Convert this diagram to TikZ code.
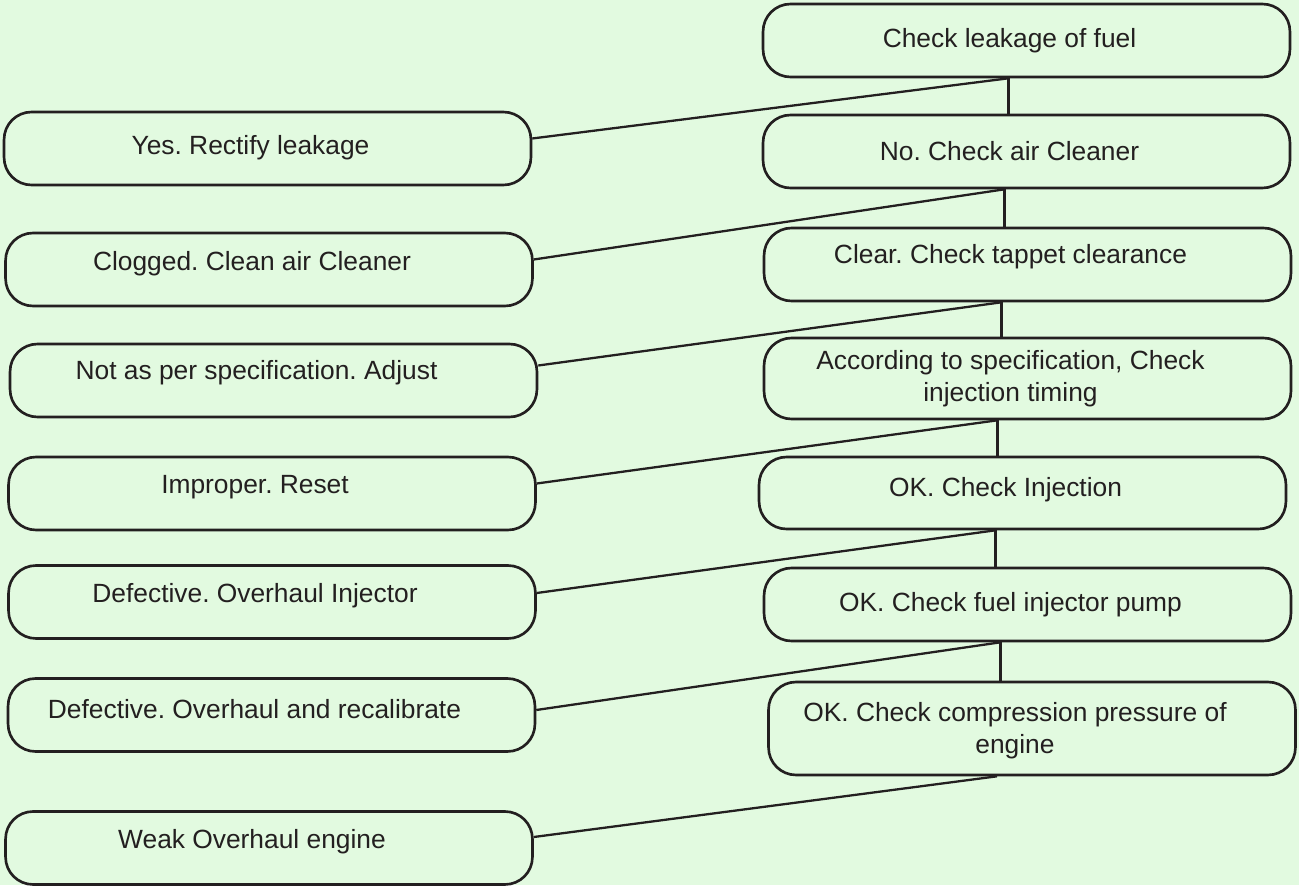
\documentclass[tikz,border=0pt]{standalone}
\usepackage{xcolor}
\usepackage{fontspec}
\setmainfont{Liberation Sans}
\frenchspacing
\usepackage{tikz}

\definecolor{bgmint}{HTML}{E2FAE0}
\definecolor{inkgray}{HTML}{231F20}

\tikzset{
  stepbox/.style={draw=inkgray, line width=1.5pt, rounded corners=0.55cm, fill=bgmint,
    minimum width=10.54cm, minimum height=#1, inner sep=0pt},
  stepbox/.default=1.46cm,
  steptext/.style={text=inkgray, align=center, font=\fontsize{15}{18}\selectfont},
  lefttext/.style={steptext, xshift=-0.34cm, yshift=0.12cm},
  righttext/.style={steptext, xshift=-0.34cm},
  link/.style={draw=inkgray, line width=1.3pt},
}

\begin{document}
\begin{tikzpicture}[x=0.02cm, y=-0.02cm]
        \fill[bgmint] (0,0) rectangle (1299,885);

        % checks, top to bottom
        \node[stepbox, label={[righttext]center:Check leakage of fuel}] (leak) at (1026.5,40.5) {};
        \node[stepbox, label={[righttext]center:No. Check air Cleaner}] (air) at (1026.5,151.5) {};
        \node[stepbox, label={[righttext, yshift=0.16cm]center:Clear. Check tappet clearance}] (tappet) at (1027.5,264.5) {};
        \node[stepbox=1.62cm, label={[righttext]center:According to specification, Check\\injection timing}] (timing) at (1027.5,378.5) {};
        \node[stepbox=1.44cm, label={[righttext, yshift=0.06cm]center:OK. Check Injection}] (inject) at (1022.5,493) {};
        \node[stepbox, label={[righttext]center:OK. Check fuel injector pump}] (pump) at (1027.5,604.5) {};
        \node[stepbox=1.86cm, label={[righttext, yshift=-0.04cm]center:OK. Check compression pressure of\\engine}] (compress) at (1032,728.5) {};

        % remedies
        \node[stepbox, label={[lefttext, yshift=-0.1cm]center:Yes. Rectify leakage}] (rectify) at (267.5,148.5) {};
        \node[stepbox, label={[lefttext]center:Clogged. Clean air Cleaner}] (clean) at (269,269.5) {};
        \node[stepbox, label={[lefttext, yshift=0.04cm]center:Not as per specification. Adjust}] (adjust) at (273.5,380.5) {};
        \node[stepbox, label={[lefttext]center:Improper. Reset}] (reset) at (272,493.5) {};
        \node[stepbox, label={[lefttext]center:Defective. Overhaul Injector}] (injector) at (272,602) {};
        \node[stepbox, label={[lefttext]center:Defective. Overhaul and recalibrate}] (recal) at (271.5,715) {};
        \node[stepbox, label={[lefttext]center:Weak Overhaul engine}] (overhaul) at (269,848) {};

        \coordinate (j1) at ([xshift=-0.36cm]leak.south);
        \coordinate (j2) at ([xshift=-0.44cm]air.south);
        \coordinate (j3) at ([xshift=-0.52cm]tappet.south);
        \coordinate (j4) at ([xshift=-0.6cm]timing.south);
        \coordinate (j5) at ([xshift=-0.54cm]inject.south);
        \coordinate (j6) at ([xshift=-0.54cm]pump.south);
        \coordinate (j7) at ([xshift=-0.7cm]compress.south);

        \path[link]
        (j1) edge (j1 |- air.north)
        (j1) edge ([yshift=0.2cm]rectify.east)
        (j2) edge (j2 |- tappet.north)
        (j2) edge ([yshift=0.2cm]clean.east)
        (j3) edge (j3 |- timing.north)
        (j3) edge ([yshift=0.3cm]adjust.east)
        (j4) edge (j4 |- inject.north)
        (j4) edge ([yshift=0.2cm]reset.east)
        (j5) edge (j5 |- pump.north)
        (j5) edge ([yshift=0.18cm]injector.east)
        (j6) edge (j6 |- compress.north)
        (j6) edge ([yshift=0.1cm]recal.east)
        (j7) edge ([yshift=0.22cm]overhaul.east);

    \end{tikzpicture}
\end{document}
